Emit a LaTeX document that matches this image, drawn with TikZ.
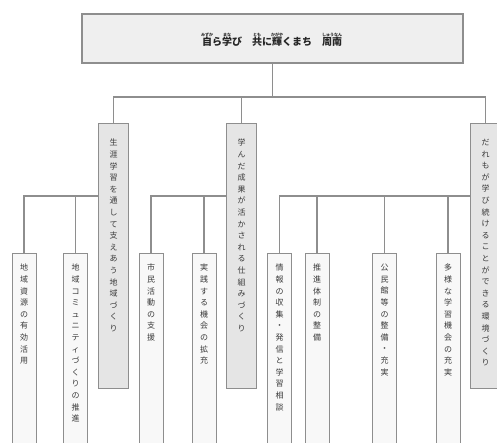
\documentclass[tikz,border=0pt]{standalone}
\usepackage{fontspec}
\newfontfamily\cjk{Noto Sans CJK JP}
\makeatletter
\newcommand\vstack[1]{\vbox{\baselineskip=11.6pt\lineskiplimit=-20pt\@tfor\vs@c:=#1\do{\hbox to 9pt{\hss\vs@c\hss}}}}
\makeatother
\newsavebox\rubybox
\newcommand\myruby[2]{\sbox\rubybox{#1}\makebox[\wd\rubybox][c]{\raisebox{9pt}[0pt][0pt]{\makebox[0pt][c]{\fontsize{4}{4}\selectfont #2}}}\hspace{-\wd\rubybox}\usebox\rubybox}
\definecolor{ln}{HTML}{8E8E8E}
\definecolor{fillA}{HTML}{E5E5E5}
\definecolor{fillB}{HTML}{F8F8F8}
\definecolor{fillT}{HTML}{EFEFEF}
\definecolor{txt}{HTML}{3A3A3A}
\tikzset{
  conn/.style={draw=ln, line width=1.3pt},
  titlebox/.style={draw=ln, line width=1.8pt, fill=fillT, inner sep=0pt, minimum width=381pt, minimum height=49pt, anchor=north west},
  lonebox/.style={draw=ln, line width=1.3pt, fill=fillA, inner sep=0pt, minimum width=30pt, minimum height=265pt, anchor=north west},
  ltwobox/.style={draw=ln, line width=1.2pt, fill=fillB, inner sep=0pt, minimum width=24pt, minimum height=230pt, anchor=north west},
  vt/.style={inner sep=0pt, anchor=north, text=txt, font=\cjk\fontsize{8}{11.6}\selectfont},
}
\begin{document}
\begin{tikzpicture}[x=1pt,y=-1pt]
\clip (0,0) rectangle (497,443);
\fill[white] (0,0) rectangle (497,443);
% title
\node[titlebox] (title) at (81,13) {};
\node[inner sep=0pt, text=black!85, font=\cjk\bfseries\fontsize{10}{12}\selectfont] (ttext) at (272,42)
  {\myruby{自}{みずか}ら\myruby{学}{まな}び\hspace{1em}\myruby{共}{とも}に\myruby{輝}{かがや}くまち\hspace{1em}\myruby{周南}{しゅうなん}};
% level 1
\node[lonebox] (la) at (98,123) {};
\node[lonebox] (lb) at (226,123) {};
\node[lonebox] (lc) at (470,123) {};
\node[vt] (tla) at ([yshift=-16pt]la.north) {\vstack{生涯学習を通して支えあう地域づくり}};
\node[vt] (tlb) at ([yshift=-16pt]lb.north) {\vstack{学んだ成果が活かされる仕組みづくり}};
\node[vt] (tlc) at ([yshift=-16pt]lc.north) {\vstack{だれもが学び続けることができる環境づくり}};
% level 2
\node[ltwobox] (ma) at (11.5,253) {};
\node[ltwobox] (mb) at (63,253) {};
\node[ltwobox] (mc) at (138.5,253) {};
\node[ltwobox] (md) at (191.5,253) {};
\node[ltwobox] (me) at (267,253) {};
\node[ltwobox] (mf) at (304.5,253) {};
\node[ltwobox] (mg) at (372,253) {};
\node[ltwobox] (mh) at (435.5,253) {};
\node[vt] (tma) at ([yshift=-11pt]ma.north) {\vstack{地域資源の有効活用}};
\node[vt] (tmb) at ([yshift=-11pt]mb.north) {\vstack{地域コミュニティづくりの推進}};
\node[vt] (tmc) at ([yshift=-11pt]mc.north) {\vstack{市民活動の支援}};
\node[vt] (tmd) at ([yshift=-11pt]md.north) {\vstack{実践する機会の拡充}};
\node[vt] (tme) at ([yshift=-11pt]me.north) {\vstack{情報の収集・発信と学習相談}};
\node[vt] (tmf) at ([yshift=-11pt]mf.north) {\vstack{推進体制の整備}};
\node[vt] (tmg) at ([yshift=-11pt]mg.north) {\vstack{公民館等の整備・充実}};
\node[vt] (tmh) at ([yshift=-11pt]mh.north) {\vstack{多様な学習機会の充実}};
% junctions
\coordinate (j0) at (272,97);
\coordinate (ja) at (98,196);
\coordinate (jb) at (226,196);
\coordinate (jc) at (470,196);
% connectors
\draw[conn] (title.south) -- (title.south |- j0);
\draw[conn] (la.north) -- (la.north |- j0) -- (lc.north |- j0) -- (lc.north);
\draw[conn] (lb.north) -- (lb.north |- j0);
\draw[conn] (ja) -| (ma.north);
\draw[conn] (ja) -| (mb.north);
\draw[conn] (jb) -| (mc.north);
\draw[conn] (jb) -| (md.north);
\draw[conn] (jc) -| (me.north);
\draw[conn] (jc) -| (mf.north);
\draw[conn] (jc) -| (mg.north);
\draw[conn] (jc) -| (mh.north);
\end{tikzpicture}
\end{document}
